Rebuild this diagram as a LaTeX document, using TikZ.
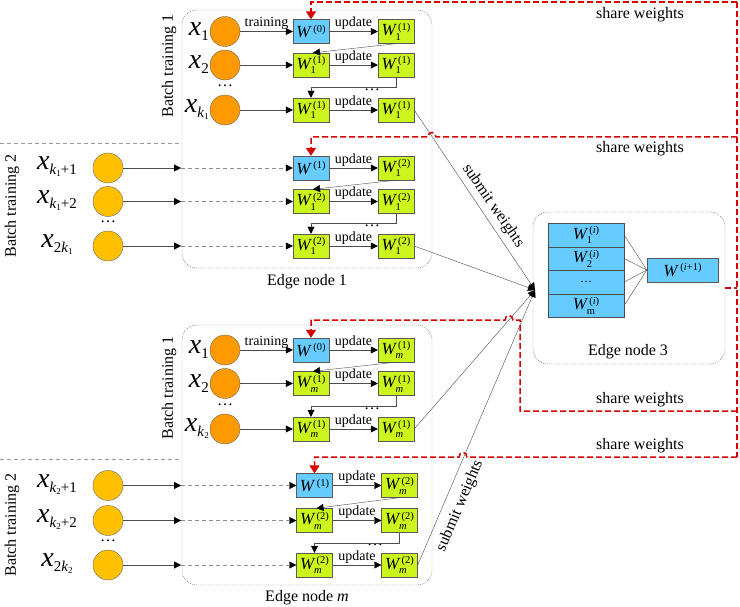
\documentclass[tikz,border=0pt]{standalone}
\usepackage{fontspec}
\setmainfont{Liberation Serif}
\usetikzlibrary{arrows.meta}
\definecolor{wblue}{RGB}{102,204,255}
\definecolor{wgreen}{RGB}{204,245,30}
\definecolor{corange}{RGB}{255,153,0}
\definecolor{cgold}{RGB}{255,192,0}
\definecolor{sred}{RGB}{215,0,0}
\newcommand{\Wsup}[1]{\textit{W}\kern1.5pt\raisebox{5.5pt}{\fontsize{10.5}{10.5}\selectfont #1}}
\newcommand{\Wsb}[2]{\textit{W}\kern-1.5pt\rlap{\raisebox{-4.5pt}{\fontsize{10.5}{10.5}\selectfont #1}}\kern2.5pt\raisebox{5.5pt}{\fontsize{10.5}{10.5}\selectfont #2}}
\newcommand{\xl}[1]{{\fontsize{28}{28}\selectfont\textit{x}}\raisebox{-5pt}{\fontsize{15}{15}\selectfont #1}}
\newcommand{\kk}[1]{\textit{k}\raisebox{-2pt}{\fontsize{9}{9}\selectfont #1}}
\tikzset{
  wb/.style={draw=black!65, fill=wblue, minimum width=36pt, minimum height=24pt, inner sep=0pt, font=\fontsize{17}{17}\selectfont},
  wg/.style={wb, fill=wgreen},
  circO/.style={circle, draw=black!60, fill=corange, minimum size=30pt, inner sep=0pt},
  circG/.style={circO, fill=cgold},
  arr/.style={draw=black!70, -{Triangle[length=7pt,width=7pt,color=black]}},
  darr/.style={arr, draw=black!45, dash pattern=on 4pt off 3pt},
  shr/.style={draw=sred, line width=1.5pt, dash pattern=on 6pt off 3pt},
  redarr/.style={shr, -{Triangle[length=8pt,width=10pt]}},
  edgebox/.style={draw=black!60, dash pattern=on 1pt off 1pt, rounded corners=15pt, inner sep=0pt},
  lbl/.style={font=\fontsize{14}{14}\selectfont, inner sep=1.5pt},
  big/.style={font=\fontsize{16}{16}\selectfont},
  sepline/.style={draw=black!40, dash pattern=on 4pt off 3pt},
  stk/.style={draw=black!70, fill=wblue, minimum width=76pt, minimum height=23.5pt, inner sep=0pt, font=\fontsize{17}{17}\selectfont}
}
\begin{document}
\begin{tikzpicture}[x=1pt,y=-1pt]
\useasboundingbox (0,0) rectangle (740,607);
% ---------------- edge boxes
\node[edgebox, minimum width=250pt, minimum height=258pt] (E1) at (307,139) {};
\node[big] (E1l) at (307,282) {Edge node 1};
\node[edgebox, minimum width=250pt, minimum height=260pt] (Em) at (307,455) {};
\node[big] (Eml) at (307,598) {Edge node \textit{m}};
\node[edgebox, minimum width=192pt, minimum height=152pt] (E3) at (629,288) {};
\node[big] (E3l) at (628,352) {Edge node 3};
% separators
\coordinate (s1a) at (0,143); \coordinate (s1b) at (182,143);
\coordinate (s2a) at (0,459); \coordinate (s2b) at (182,459);
\draw[sepline] (s1a) -- (s1b);
\draw[sepline] (s2a) -- (s2b);
% batch labels
\node[big, rotate=90] (bt1a) at (169,66) {Batch training 1};
\node[big, rotate=90] (bt2a) at (12,206) {Batch training 2};
\node[big, rotate=90] (bt1m) at (169,388) {Batch training 1};
\node[big, rotate=90] (bt2m) at (12,525) {Batch training 2};
% ================= group a: node 1 batch 1
\node[circO] (a1) at (225,31.5) {};
\node[circO] (a2) at (225,65) {};
\node[circO] (a3) at (225,110) {};
\node[anchor=east, inner sep=0pt] (la1) at (209,31.5) {\xl{1}};
\node[anchor=east, inner sep=0pt] (la2) at (209,65) {\xl{2}};
\node[anchor=east, inner sep=0pt] (la3) at (209,110) {\xl{\kk{1}}};
\node[big] (da) at (225,86) {…};
\node[wb] (a1L) at (311,31.5) {\Wsup{(0)}};
\node[wg] (a1R) at (396,31.5) {\Wsb{1}{(1)}};
\node[wg] (a2L) at (311,65) {\Wsb{1}{(1)}};
\node[wg] (a2R) at (396,65) {\Wsb{1}{(1)}};
\node[wg] (a3L) at (311,110) {\Wsb{1}{(1)}};
\node[wg] (a3R) at (396,110) {\Wsb{1}{(1)}};
\node[big] (dab) at (372,90) {…};
\draw[arr] (a1) -- node[lbl, above] {training} (a1L);
\draw[arr] (a1L) -- node[lbl, above] {update} (a1R);
\draw[arr] (a1R.south) -- ([xshift=2pt]a2L.north);
\draw[arr] (a2) -- (a2L);
\draw[arr] (a2L) -- node[lbl, above] {update} (a2R);
\draw[arr] (a2R.south) -- ++(0,10) -| (a3L.north);
\draw[arr] (a3) -- (a3L);
\draw[arr] (a3L) -- node[lbl, above] {update} (a3R);
% ================= group b: node 1 batch 2
\node[circG] (b1) at (108,168) {};
\node[circG] (b2) at (108,201.5) {};
\node[circG] (b3) at (108,246) {};
\node[inner sep=0pt] (lb1) at (57,167) {\xl{\kk{1}+1}};
\node[inner sep=0pt] (lb2) at (57,200.5) {\xl{\kk{1}+2}};
\node[inner sep=0pt] (lb3) at (57,245) {\xl{2\kk{1}}};
\node[big] (db) at (108,222) {…};
\node[wb] (b1L) at (311,168) {\Wsup{(1)}};
\node[wg] (b1R) at (396,168) {\Wsb{1}{(2)}};
\node[wg] (b2L) at (311,201.5) {\Wsb{1}{(2)}};
\node[wg] (b2R) at (396,201.5) {\Wsb{1}{(2)}};
\node[wg] (b3L) at (311,246) {\Wsb{1}{(2)}};
\node[wg] (b3R) at (396,246) {\Wsb{1}{(2)}};
\node[big] (dbb) at (372,226) {…};
\coordinate (b1m) at (181,168);
\coordinate (b2m) at (181,201.5);
\coordinate (b3m) at (181,246);
\draw[arr] (b1) -- (b1m); \draw[darr] (b1m) -- (b1L);
\draw[arr] (b2) -- (b2m); \draw[darr] (b2m) -- (b2L);
\draw[arr] (b3) -- (b3m); \draw[darr] (b3m) -- (b3L);
\draw[arr] (b1L) -- node[lbl, above] {update} (b1R);
\draw[arr] (b1R.south) -- ([xshift=2pt]b2L.north);
\draw[arr] (b2L) -- node[lbl, above] {update} (b2R);
\draw[arr] (b2R.south) -- ++(0,10) -| (b3L.north);
\draw[arr] (b3L) -- node[lbl, above] {update} (b3R);
% ================= group c: node m batch 1
\node[circO] (c1) at (225,350) {};
\node[circO] (c2) at (225,383.5) {};
\node[circO] (c3) at (225,429) {};
\node[anchor=east, inner sep=0pt] (lc1) at (209,350) {\xl{1}};
\node[anchor=east, inner sep=0pt] (lc2) at (209,383.5) {\xl{2}};
\node[anchor=east, inner sep=0pt] (lc3) at (209,429) {\xl{\kk{2}}};
\node[big] (dc) at (225,405) {…};
\node[wb] (c1L) at (311,350) {\Wsup{(0)}};
\node[wg] (c1R) at (396,350) {\Wsb{\textit{m}}{(1)}};
\node[wg] (c2L) at (311,383.5) {\Wsb{\textit{m}}{(1)}};
\node[wg] (c2R) at (396,383.5) {\Wsb{\textit{m}}{(1)}};
\node[wg] (c3L) at (311,429) {\Wsb{\textit{m}}{(1)}};
\node[wg] (c3R) at (396,429) {\Wsb{\textit{m}}{(1)}};
\node[big] (dcb) at (372,409) {…};
\draw[arr] (c1) -- node[lbl, above] {training} (c1L);
\draw[arr] (c1L) -- node[lbl, above] {update} (c1R);
\draw[arr] (c1R.south) -- ([xshift=2pt]c2L.north);
\draw[arr] (c2) -- (c2L);
\draw[arr] (c2L) -- node[lbl, above] {update} (c2R);
\draw[arr] (c2R.south) -- ++(0,10) -| (c3L.north);
\draw[arr] (c3) -- (c3L);
\draw[arr] (c3L) -- node[lbl, above] {update} (c3R);
% ================= group d: node m batch 2
\node[circG] (d1) at (108,485.5) {};
\node[circG] (d2) at (108,520.5) {};
\node[circG] (d3) at (108,565) {};
\node[inner sep=0pt] (ld1) at (57,484.5) {\xl{\kk{2}+1}};
\node[inner sep=0pt] (ld2) at (57,519.5) {\xl{\kk{2}+2}};
\node[inner sep=0pt] (ld3) at (57,564) {\xl{2\kk{2}}};
\node[big] (dd) at (108,541) {…};
\node[wb] (d1L) at (314.5,485.5) {\Wsup{(1)}};
\node[wg] (d1R) at (399.5,485.5) {\Wsb{\textit{m}}{(2)}};
\node[wg] (d2L) at (314.5,520.5) {\Wsb{\textit{m}}{(2)}};
\node[wg] (d2R) at (399.5,520.5) {\Wsb{\textit{m}}{(2)}};
\node[wg] (d3L) at (314.5,565) {\Wsb{\textit{m}}{(2)}};
\node[wg] (d3R) at (399.5,565) {\Wsb{\textit{m}}{(2)}};
\node[big] (ddb) at (375,545) {…};
\coordinate (d1m) at (181,485.5);
\coordinate (d2m) at (181,520.5);
\coordinate (d3m) at (181,565);
\draw[arr] (d1) -- (d1m); \draw[darr] (d1m) -- (d1L);
\draw[arr] (d2) -- (d2m); \draw[darr] (d2m) -- (d2L);
\draw[arr] (d3) -- (d3m); \draw[darr] (d3m) -- (d3L);
\draw[arr] (d1L) -- node[lbl, above] {update} (d1R);
\draw[arr] (d1R.south) -- ([xshift=2pt]d2L.north);
\draw[arr] (d2L) -- node[lbl, above] {update} (d2R);
\draw[arr] (d2R.south) -- ++(0,10) -| (d3L.north);
\draw[arr] (d3L) -- node[lbl, above] {update} (d3R);
% ================= edge node 3
\node[stk] (s1) at (586,235) {\Wsb{1}{(\textit{i})}};
\node[stk] (s2) at (586,258.5) {\Wsb{2}{(\textit{i})}};
\node[stk, font=\fontsize{12}{12}\selectfont] (s3) at (586,282) {…};
\node[stk] (s4) at (586,305.5) {\Wsb{m}{(\textit{i})}};
\node[wb, minimum width=71pt] (wn) at (682.5,270) {\Wsup{(\textit{i}+1)}};
\draw[draw=black!70] (s1.east) -- (wn.west);
\draw[draw=black!70] (s2.east) -- (wn.west);
\draw[draw=black!70] (s3.east) -- (wn.west);
\draw[draw=black!70] (s4.east) -- (wn.west);
% ================= submit weights
\coordinate (hub) at (535,290);
\draw[arr] (a3R.east) -- (hub);
\draw[arr] (b3R.east) -- (hub);
\draw[arr] (c3R.east) -- (hub);
\draw[arr] (d3R.east) -- (hub);
\node[big, rotate=-55.5, inner sep=0pt] (sub1) at (493,206) {submit weights};
\node[big, rotate=66.8, inner sep=0pt] (sub2) at (460,506) {submit weights};
% ================= share weights
\coordinate (t0) at (725,288);
\coordinate (t1) at (737,288);
\draw[shr] (t0) -- (t1);
\draw[shr] (737,2) -- (737,457);
\draw[redarr] (737,2) -- (311,2) -- (a1L.north);
\draw[redarr] (737,137) -- (436,137) .. controls (436,131) and (428,131) .. (428,137) -- (311,137) -- (b1L.north);
\draw[redarr] (737,411) -- (520,411) -- (520,320) -- (513,320) .. controls (513,314) and (505,314) .. (505,320) -- (311,320) -- (c1L.north);
\draw[redarr] (737,457) -- (467,457) .. controls (467,451) and (459,451) .. (459,457) -- (314.5,457) -- (d1L.north);
\node[big] (sw1) at (640,15) {share weights};
\node[big] (sw2) at (640,149) {share weights};
\node[big] (sw3) at (640,400) {share weights};
\node[big] (sw4) at (640,446) {share weights};
\end{tikzpicture}
\end{document}
